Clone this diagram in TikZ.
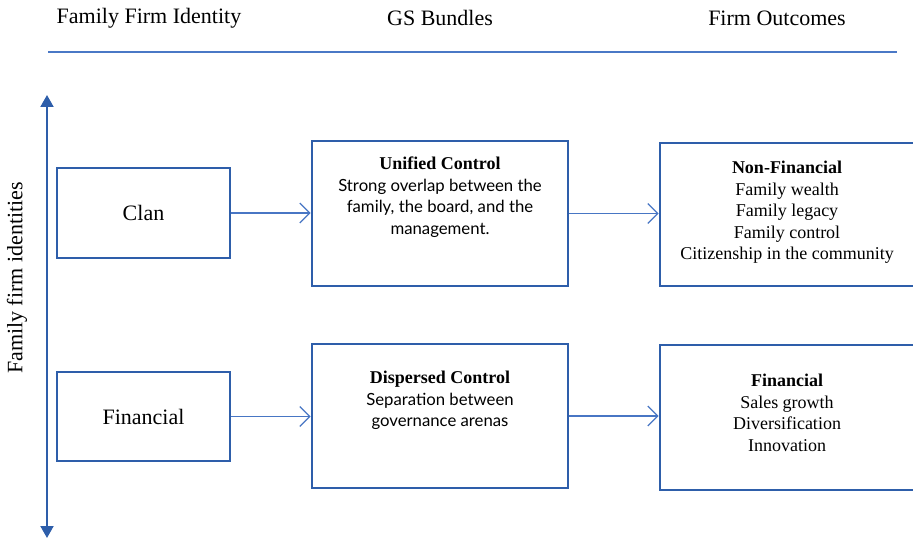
\documentclass[tikz,border=0pt]{standalone}
\usepackage{fontspec}
\setmainfont{Liberation Serif}
\newfontfamily\bodysans{Lato}[Scale=0.93]
\usetikzlibrary{arrows.meta}
\definecolor{boxblue}{RGB}{46,94,170}
\definecolor{linkblue}{RGB}{72,118,196}
\definecolor{ruleblue}{RGB}{74,120,198}
\tikzset{
  framebox/.style={draw=boxblue, line width=2.6pt, minimum width=#1, inner sep=0pt},
  boxtext/.style={align=center, inner sep=0pt, anchor=north,
    font=\fontsize{18}{21.5}\selectfont},
  headtext/.style={inner sep=0pt, font=\fontsize{22}{24}\selectfont},
  identtext/.style={font=\fontsize{22}{24}\selectfont},
  link/.style={draw=linkblue, line width=1.3pt,
    -{Straight Barb[length=10pt,width=20pt,line width=1.3pt]}},
}
\begin{document}
\begin{tikzpicture}[x=1pt,y=-1pt]
\useasboundingbox (0,0) rectangle (913,540);
\clip (0,0) rectangle (913,540);

% column headings and rule
\node[headtext] (hId)  at (149,18) {Family Firm Identity};
\node[headtext] (hGS)  at (440,18) {GS Bundles};
\node[headtext] (hOut) at (777,18) {Firm Outcomes};
\coordinate (ruleL) at (48,52);
\coordinate (ruleR) at (897,52);
\draw[ruleblue, line width=2pt] (ruleL) -- (ruleR);

% vertical axis of identities
\coordinate (axisTop) at (47,95);
\coordinate (axisBot) at (47,538);
\draw[boxblue, line width=2pt, {Triangle[length=12pt,width=13pt]}-{Triangle[length=12pt,width=13pt]}] (axisBot) -- (axisTop);
\node[headtext, rotate=90] (axisLbl) at (17,278) {Family firm identities};

% identity boxes
\node[framebox=173pt, minimum height=90pt, identtext] (clan) at (143.5,213) {Clan};
\node[framebox=173pt, minimum height=89pt, identtext] (fin) at (143.5,416.5) {Financial};

% governance bundles
\node[framebox=256pt, minimum height=145pt] (unified) at (440,213.5) {};
\node[boxtext] (unifiedTxt) at (440,157) {\textbf{Unified Control}\\\bodysans Strong overlap between the\\\bodysans family, the board, and the\\\bodysans management.};
\node[framebox=256pt, minimum height=144pt] (dispersed) at (440,416) {};
\node[boxtext] (dispersedTxt) at (440,371) {\textbf{Dispersed Control}\\\bodysans Separation between\\\bodysans governance arenas};

% outcomes
\node[framebox=256pt, minimum height=143pt] (nonfinOut) at (788,214.5) {};
\node[boxtext] (nonfinTxt) at (787,161) {\textbf{Non-Financial}\\Family wealth\\Family legacy\\Family control\\Citizenship in the community};
\node[framebox=256pt, minimum height=145pt] (finOut) at (788,417.5) {};
\node[boxtext] (finTxt) at (787,374) {\textbf{Financial}\\Sales growth\\Diversification\\Innovation};

% links
\draw[link] (clan.east) -- (clan.east -| unified.west);
\draw[link] (unified.east) -- (unified.east -| nonfinOut.west);
\draw[link] (fin.east) -- (fin.east -| dispersed.west);
\draw[link] (dispersed.east) -- (dispersed.east -| finOut.west);
\end{tikzpicture}
\end{document}
